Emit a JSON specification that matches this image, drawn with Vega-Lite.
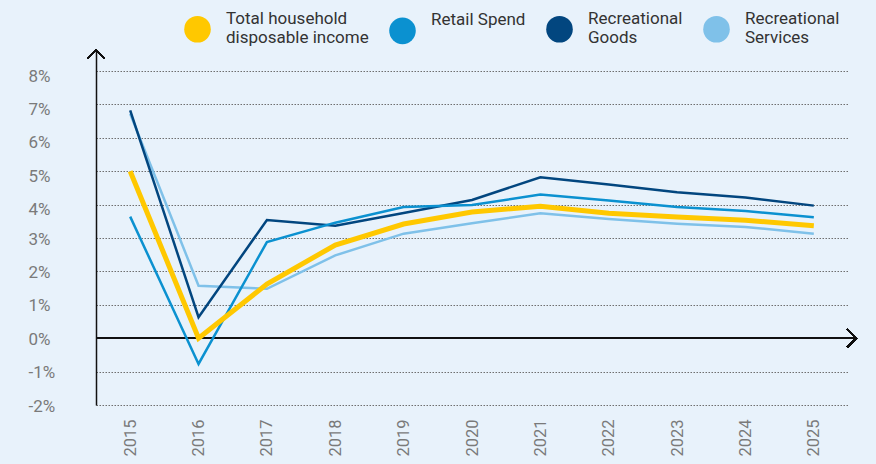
{
  "$schema": "https://vega.github.io/schema/vega-lite/v6.json",
  "width": 752,
  "height": 355,
  "autosize": {"type": "none"},
  "padding": {"left": 96, "top": 50, "right": 28, "bottom": 59},
  "background": "#e8f2fb",
  "config": {"view": {"stroke": null}, "font": "Roboto"},
  "data": {
    "values": [
      {"series": "Recreational Services", "year": 2015, "value": 6.72},
      {"series": "Recreational Services", "year": 2016, "value": 1.57},
      {"series": "Recreational Services", "year": 2017, "value": 1.48},
      {"series": "Recreational Services", "year": 2018, "value": 2.48},
      {"series": "Recreational Services", "year": 2019, "value": 3.13},
      {"series": "Recreational Services", "year": 2020, "value": 3.44},
      {"series": "Recreational Services", "year": 2021, "value": 3.74},
      {"series": "Recreational Services", "year": 2022, "value": 3.57},
      {"series": "Recreational Services", "year": 2023, "value": 3.43},
      {"series": "Recreational Services", "year": 2024, "value": 3.33},
      {"series": "Recreational Services", "year": 2025, "value": 3.13},
      {"series": "Recreational Goods", "year": 2015, "value": 6.82},
      {"series": "Recreational Goods", "year": 2016, "value": 0.63},
      {"series": "Recreational Goods", "year": 2017, "value": 3.54},
      {"series": "Recreational Goods", "year": 2018, "value": 3.37},
      {"series": "Recreational Goods", "year": 2019, "value": 3.75},
      {"series": "Recreational Goods", "year": 2020, "value": 4.14},
      {"series": "Recreational Goods", "year": 2021, "value": 4.82},
      {"series": "Recreational Goods", "year": 2022, "value": 4.6},
      {"series": "Recreational Goods", "year": 2023, "value": 4.37},
      {"series": "Recreational Goods", "year": 2024, "value": 4.21},
      {"series": "Recreational Goods", "year": 2025, "value": 3.97},
      {"series": "Retail Spend", "year": 2015, "value": 3.64},
      {"series": "Retail Spend", "year": 2016, "value": -0.77},
      {"series": "Retail Spend", "year": 2017, "value": 2.88},
      {"series": "Retail Spend", "year": 2018, "value": 3.46},
      {"series": "Retail Spend", "year": 2019, "value": 3.93},
      {"series": "Retail Spend", "year": 2020, "value": 3.99},
      {"series": "Retail Spend", "year": 2021, "value": 4.3},
      {"series": "Retail Spend", "year": 2022, "value": 4.12},
      {"series": "Retail Spend", "year": 2023, "value": 3.93},
      {"series": "Retail Spend", "year": 2024, "value": 3.81},
      {"series": "Retail Spend", "year": 2025, "value": 3.62},
      {"series": "Total household disposable income", "year": 2015, "value": 5.0},
      {"series": "Total household disposable income", "year": 2016, "value": 0.0},
      {"series": "Total household disposable income", "year": 2017, "value": 1.62},
      {"series": "Total household disposable income", "year": 2018, "value": 2.79},
      {"series": "Total household disposable income", "year": 2019, "value": 3.42},
      {"series": "Total household disposable income", "year": 2020, "value": 3.78},
      {"series": "Total household disposable income", "year": 2021, "value": 3.95},
      {"series": "Total household disposable income", "year": 2022, "value": 3.74},
      {"series": "Total household disposable income", "year": 2023, "value": 3.63},
      {"series": "Total household disposable income", "year": 2024, "value": 3.53},
      {"series": "Total household disposable income", "year": 2025, "value": 3.37}
    ]
  },
  "layer": [
    {
      "mark": {"type": "point", "filled": true, "size": 0, "shape": "circle"},
      "encoding": {
        "x": {
          "field": "year",
          "type": "quantitative",
          "scale": {"domain": [2014.5, 2025.5], "nice": false, "zero": false},
          "axis": {
            "title": null,
            "values": [2015, 2016, 2017, 2018, 2019, 2020, 2021, 2022, 2023, 2024, 2025],
            "tickCount": 11,
            "format": "d",
            "labelAngle": -90,
            "labelAlign": "right",
            "labelBaseline": "middle",
            "labelFontSize": 16.5,
            "labelColor": "#7a7a7a",
            "labelPadding": 14,
            "labelOverlap": false,
            "ticks": false,
            "tickSize": 0,
            "domain": false,
            "grid": false
          }
        },
        "y": {
          "field": "value",
          "type": "quantitative",
          "scale": {"domain": [-2, 8.63], "nice": false, "zero": false},
          "axis": {
            "title": null,
            "values": [-2, -1, 0, 1, 2, 3, 4, 5, 6, 7, 8],
            "tickCount": 11,
            "labelExpr": "datum.value + '%'",
            "labelAlign": "left",
            "labelPadding": 68,
            "labelFontSize": 17,
            "labelColor": "#7a7a7a",
            "labelOverlap": false,
            "labelOffset": {"condition": {"test": "datum.value >= 4", "value": 5}, "value": 1},
            "ticks": false,
            "tickSize": 0,
            "domain": true,
            "domainColor": "#111111",
            "domainWidth": 1.5,
            "grid": true,
            "gridColor": "#6f6f6f",
            "gridDash": [1.5, 1.5],
            "gridWidth": 1
          }
        },
        "color": {
          "field": "series",
          "type": "nominal",
          "scale": {
            "domain": ["Total household disposable income", "Retail Spend", "Recreational Goods", "Recreational Services"],
            "range": ["#ffc800", "#0b91d0", "#02467f", "#7fc1e9"]
          },
          "legend": {
            "orient": "none",
            "direction": "horizontal",
            "legendX": 88,
            "legendY": -45,
            "title": null,
            "symbolType": "circle",
            "symbolSize": 707,
            "symbolStrokeWidth": 0,
            "symbolOpacity": 1,
            "labelFontSize": 17,
            "labelLineHeight": 22,
            "labelColor": "#333333",
            "labelOffset": 15,
            "labelLimit": 300,
            "columnPadding": 20,
            "labelExpr": "datum.value == 'Total household disposable income' ? ['Total household', 'disposable income'] : datum.value == 'Recreational Goods' ? ['Recreational', 'Goods'] : datum.value == 'Recreational Services' ? ['Recreational', 'Services'] : datum.value",
            "encoding": {"symbols": {"y": {"value": 24}}}
          }
        }
      }
    },
    {
      "mark": {"type": "rule", "color": "#111111", "strokeWidth": 1.5},
      "encoding": {
        "y": {"datum": 0},
        "x": {"datum": 2014.5},
        "x2": {"datum": 2025.62}
      }
    },
    {
      "mark": {"type": "line", "strokeJoin": "miter", "strokeCap": "butt"},
      "encoding": {
        "x": {"field": "year", "type": "quantitative"},
        "y": {"field": "value", "type": "quantitative"},
        "color": {"field": "series", "type": "nominal", "legend": null},
        "strokeWidth": {
          "condition": {"test": "datum.series === 'Total household disposable income'", "value": 5},
          "value": 2.5
        }
      }
    },
    {
      "mark": {"type": "point", "filled": false, "stroke": "#111111", "strokeWidth": 1.5, "shape": "M-1,1L0,0L1,1", "size": 289, "opacity": 1},
      "encoding": {
        "x": {"datum": 2014.5},
        "y": {"datum": 8.63}
      }
    },
    {
      "mark": {"type": "point", "filled": false, "stroke": "#111111", "strokeWidth": 1.5, "shape": "M-1,-1L0,0L-1,1", "size": 324, "opacity": 1},
      "encoding": {
        "x": {"datum": 2025.62},
        "y": {"datum": 0}
      }
    }
  ]
}
